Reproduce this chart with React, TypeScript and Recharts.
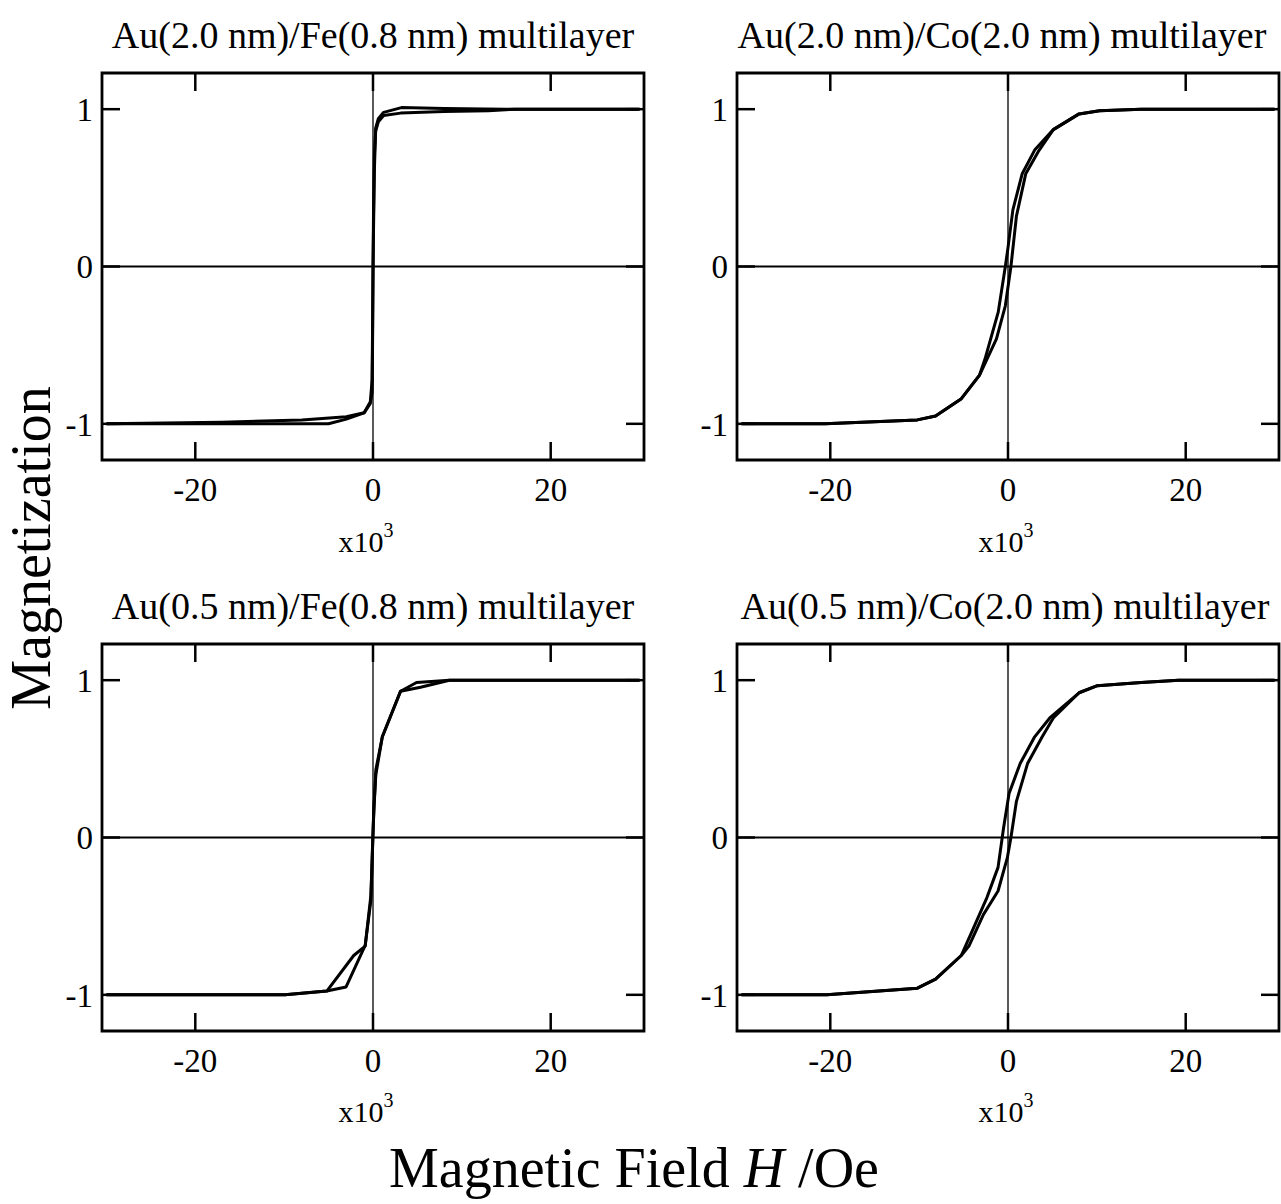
import React from 'react';
import { LineChart, Line, XAxis, YAxis, ReferenceLine, ReferenceArea } from 'recharts';

// ---------- data (field H in units of 10^3 Oe, normalized magnetization M) ----------
const X_TICKS = [-20, 0, 20];
const Y_TICKS = [-1, 0, 1];
const TICK_MARKS_X = [-20, 0, 20];
const TICK_MARKS_Y = [-1, 0, 1];
const X_DOMAIN: [number, number] = [-30.5, 30.5];
const Y_DOMAIN: [number, number] = [-1.23, 1.23];

const TITLES = [
  'Au(2.0 nm)/Fe(0.8 nm) multilayer',
  'Au(2.0 nm)/Co(2.0 nm) multilayer',
  'Au(0.5 nm)/Fe(0.8 nm) multilayer',
  'Au(0.5 nm)/Co(2.0 nm) multilayer',
];

// Au(2.0)/Fe(0.8)
const feThickDescH = [30, 20, 15, 8, 3.2, 1.2, 0.6, 0.3, 0.15, 0.05, 0, -0.05, -0.1, -0.3, -1, -3, -8, -17, -30];
const feThickDescM = [1.0, 1.0, 1.0, 1.005, 1.01, 0.98, 0.94, 0.88, 0.6, 0.2, 0, -0.4, -0.72, -0.86, -0.93, -0.955, -0.975, -0.99, -1.0];
const feThickAscH = [-30, -15, -5, -3, -1, -0.3, -0.1, -0.05, 0, 0.05, 0.15, 0.3, 0.6, 1.2, 3.1, 8, 13, 16, 30];
const feThickAscM = [-1.0, -1.0, -1.0, -0.97, -0.93, -0.87, -0.8, -0.5, -0.1, 0.3, 0.7, 0.86, 0.92, 0.96, 0.975, 0.985, 0.99, 1.0, 1.0];

// Au(2.0)/Co(2.0)
const coThickDescH = [30, 20, 15, 10.3, 8, 5.1, 3.0, 1.6, 0.55, 0, -0.3, -1.1, -2.6, -3.2, -5.25, -8.15, -10.2, -20.6, -30];
const coThickDescM = [1.0, 1.0, 1.0, 0.99, 0.97, 0.87, 0.74, 0.59, 0.36, 0.12, 0, -0.29, -0.59, -0.69, -0.84, -0.95, -0.975, -1.0, -1.0];
const coThickAscH = [-30, -20.6, -10.2, -8.15, -5.25, -3.2, -1.3, -0.3, 0.33, 0.95, 2.0, 3.4, 5.1, 8, 10.3, 15, 20, 30];
const coThickAscM = [-1.0, -1.0, -0.975, -0.95, -0.84, -0.69, -0.46, -0.25, 0, 0.32, 0.59, 0.73, 0.87, 0.97, 0.99, 1.0, 1.0, 1.0];

// Au(0.5)/Fe(0.8)
const feThinDescH = [30, 8.6, 4.9, 3.1, 1.05, 0.32, 0.05, -0.1, -0.24, -0.88, -2.17, -5.2, -9.9, -30];
const feThinDescM = [1.0, 1.0, 0.985, 0.93, 0.64, 0.43, 0.1, -0.15, -0.37, -0.69, -0.75, -0.976, -1.0, -1.0];
const feThinAscH = [-30, -9.9, -5.2, -3.03, -0.88, -0.24, -0.05, 0.1, 0.32, 1.05, 3.1, 5.35, 8.6, 30];
const feThinAscM = [-1.0, -1.0, -0.976, -0.95, -0.686, -0.4, -0.05, 0.2, 0.4, 0.64, 0.93, 0.955, 1.0, 1.0];

// Au(0.5)/Co(2.0)
const coThinDescH = [30, 19.2, 15, 10.06, 8, 4.7, 3.0, 1.37, 0.12, -0.5, -1.12, -2.36, -4.0, -5.26, -8.15, -10.2, -20.4, -30];
const coThinDescM = [1.0, 1.0, 0.985, 0.965, 0.92, 0.76, 0.64, 0.47, 0.28, 0.06, -0.19, -0.38, -0.59, -0.75, -0.9, -0.958, -1.0, -1.0];
const coThinAscH = [-30, -20.4, -10.2, -8.15, -5.26, -4.4, -2.77, -1.12, -0.08, 0.33, 0.95, 2.2, 3.85, 5.1, 8, 10.06, 15, 19.2, 30];
const coThinAscM = [-1.0, -1.0, -0.958, -0.9, -0.75, -0.69, -0.49, -0.34, -0.13, 0, 0.23, 0.47, 0.64, 0.76, 0.92, 0.965, 0.985, 1.0, 1.0];

// ---------- helpers ----------
const zip = (h: number[], m: number[]) => h.map((x, i) => ({ h: x, m: m[i] }));

const FONT = '"Liberation Serif", "Times New Roman", Times, serif';
const PLOT_W = 542;
const PLOT_H = 387;
const ML = 60;
const MT = 10;
const MR = 10;
const XH = 80;
// inner tick lengths (pixels) converted through the scale spans
const TICK_PX = 18;
const tickLenY = (TICK_PX / PLOT_H) * (Y_DOMAIN[1] - Y_DOMAIN[0]);
const tickLenX = (TICK_PX / PLOT_W) * (X_DOMAIN[1] - X_DOMAIN[0]);

type PanelProps = {
  left: number;
  top: number;
  desc: { h: number; m: number }[];
  asc: { h: number; m: number }[];
};

function Panel({ left, top, desc, asc }: PanelProps) {
  const [x0, x1] = X_DOMAIN;
  const [y0, y1] = Y_DOMAIN;
  return (
    <div style={{ position: 'absolute', left: left - ML, top: top - MT }}>
      <LineChart
        width={PLOT_W + ML + MR}
        height={PLOT_H + MT + XH}
        margin={{ top: MT, right: MR, bottom: 0, left: 0 }}
      >
        <XAxis
          type="number"
          dataKey="h"
          domain={X_DOMAIN}
          ticks={X_TICKS}
          allowDataOverflow
          axisLine={false}
          tickLine={false}
          tickSize={8}
          tickMargin={10}
          height={XH}
          tick={{ fill: '#000', fontSize: 33, fontFamily: FONT }}
        />
        <YAxis
          type="number"
          dataKey="m"
          domain={Y_DOMAIN}
          ticks={Y_TICKS}
          allowDataOverflow
          axisLine={false}
          tickLine={false}
          tickSize={0}
          tickMargin={9}
          width={ML}
          tick={{ fill: '#000', fontSize: 33, fontFamily: FONT }}
        />
        <ReferenceLine x={0} stroke="#000" strokeWidth={1.3} />
        <ReferenceLine y={0} stroke="#000" strokeWidth={2} />
        {TICK_MARKS_X.map((t) => (
          <ReferenceLine
            key={'xt' + t}
            segment={[{ x: t, y: y1 }, { x: t, y: y1 - tickLenY }]}
            stroke="#000"
            strokeWidth={2.5}
          />
        ))}
        {TICK_MARKS_X.map((t) => (
          <ReferenceLine
            key={'xb' + t}
            segment={[{ x: t, y: y0 }, { x: t, y: y0 + tickLenY }]}
            stroke="#000"
            strokeWidth={2.5}
          />
        ))}
        {TICK_MARKS_Y.map((t) => (
          <ReferenceLine
            key={'yl' + t}
            segment={[{ x: x0, y: t }, { x: x0 + tickLenX, y: t }]}
            stroke="#000"
            strokeWidth={2.5}
          />
        ))}
        {TICK_MARKS_Y.map((t) => (
          <ReferenceLine
            key={'yr' + t}
            segment={[{ x: x1, y: t }, { x: x1 - tickLenX, y: t }]}
            stroke="#000"
            strokeWidth={2.5}
          />
        ))}
        <ReferenceArea
          x1={x0}
          x2={x1}
          y1={y0}
          y2={y1}
          fill="none"
          fillOpacity={0}
          stroke="#000"
          strokeWidth={2.8}
        />
        <Line
          data={desc}
          dataKey="m"
          type="linear"
          stroke="#000"
          strokeWidth={3}
          strokeLinejoin="round"
          dot={false}
          activeDot={false}
          isAnimationActive={false}
        />
        <Line
          data={asc}
          dataKey="m"
          type="linear"
          stroke="#000"
          strokeWidth={3}
          strokeLinejoin="round"
          dot={false}
          activeDot={false}
          isAnimationActive={false}
        />
      </LineChart>
    </div>
  );
}

const textBase: React.CSSProperties = {
  position: 'absolute',
  fontFamily: FONT,
  color: '#000',
  whiteSpace: 'nowrap',
  lineHeight: 1,
  transform: 'translate(-50%, -50%)',
};

function Title({ x, y, text }: { x: number; y: number; text: string }) {
  return <div style={{ ...textBase, left: x, top: y, fontSize: 38 }}>{text}</div>;
}

function Multiplier({ x, y }: { x: number; y: number }) {
  return (
    <div style={{ ...textBase, left: x, top: y, fontSize: 30 }}>
      x10<sup style={{ fontSize: 20, verticalAlign: 'top', position: 'relative', top: -7 }}>3</sup>
    </div>
  );
}

export default function App() {
  return (
    <div
      style={{
        position: 'absolute',
        left: 0,
        top: 0,
        width: 1281,
        height: 1204,
        overflow: 'hidden',
        background: '#fff',
      }}
    >
      <Panel left={102} top={73} desc={zip(feThickDescH, feThickDescM)} asc={zip(feThickAscH, feThickAscM)} />
      <Panel left={737} top={73} desc={zip(coThickDescH, coThickDescM)} asc={zip(coThickAscH, coThickAscM)} />
      <Panel left={102} top={644} desc={zip(feThinDescH, feThinDescM)} asc={zip(feThinAscH, feThinAscM)} />
      <Panel left={737} top={644} desc={zip(coThinDescH, coThinDescM)} asc={zip(coThinAscH, coThinAscM)} />

      <Title x={373} y={35} text={TITLES[0]} />
      <Title x={1002} y={35} text={TITLES[1]} />
      <Title x={373} y={606} text={TITLES[2]} />
      <Title x={1005} y={606} text={TITLES[3]} />

      <Multiplier x={366} y={542} />
      <Multiplier x={1006} y={542} />
      <Multiplier x={366} y={1112} />
      <Multiplier x={1006} y={1112} />

      <div
        style={{
          ...textBase,
          left: 31,
          top: 548,
          fontSize: 56,
          transform: 'translate(-50%, -50%) rotate(-90deg)',
        }}
      >
        Magnetization
      </div>
      <div style={{ ...textBase, left: 634, top: 1168, fontSize: 56 }}>
        Magnetic Field <i>H</i> /Oe
      </div>
    </div>
  );
}
